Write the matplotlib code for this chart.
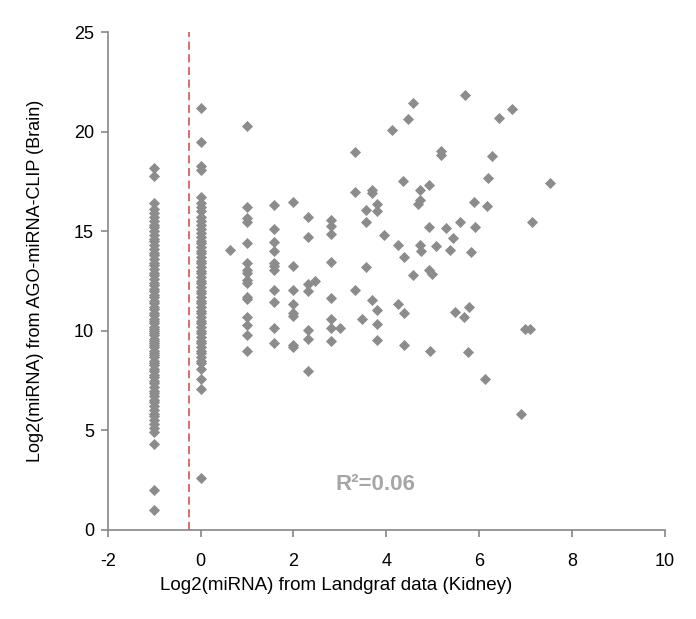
import matplotlib
matplotlib.use("Agg")
import matplotlib.pyplot as plt

plt.rcParams['font.family'] = ['Liberation Sans', 'DejaVu Sans']
plt.rcParams['axes.unicode_minus'] = False

# miRNAs absent from the kidney data (plotted at -1)
col_absent = [18.2, 17.8, 16.4, 16.1, 15.9, 15.7, 15.5, 15.3, 15.2, 15.0, 14.8, 14.6,
              14.5, 14.3, 14.1, 13.9, 13.8, 13.6, 13.4, 13.3, 13.1, 12.9, 12.8, 12.6,
              12.4, 12.3, 12.1, 12.0, 11.8, 11.7, 11.5, 11.4, 11.2, 11.1, 10.9, 10.8,
              10.6, 10.5, 10.4, 10.2, 10.1, 10.0, 9.9, 9.8, 9.6, 9.5, 9.4, 9.3, 9.2,
              9.0, 8.9, 8.8, 8.7, 8.5, 8.4, 8.3, 8.1, 8.0, 7.8, 7.7, 7.5, 7.4, 7.2,
              7.0, 6.9, 6.7, 6.5, 6.4, 6.2, 6.0, 5.8, 5.7, 5.5, 5.3, 5.1, 4.9, 4.3,
              2.0, 1.0]

# miRNAs with a single read in the kidney data (log2 = 0)
col_single = [21.2, 19.5, 18.3, 18.1, 16.7, 16.4, 16.2, 16.0, 15.7, 15.5, 15.3, 15.1,
              14.9, 14.7, 14.5, 14.4, 14.2, 14.0, 13.9, 13.7, 13.5, 13.4, 13.2, 13.0,
              12.9, 12.7, 12.5, 12.4, 12.2, 12.0, 11.9, 11.7, 11.5, 11.4, 11.2, 11.0,
              10.9, 10.7, 10.5, 10.4, 10.2, 10.0, 9.9, 9.7, 9.5, 9.4, 9.2, 9.0, 8.9,
              8.7, 8.5, 8.4, 8.1, 7.6, 7.1, 2.6]

# remaining miRNAs
kidney = [0.63,
          1.0, 1.0, 1.0, 1.0, 1.0, 1.0, 1.0, 1.0, 1.0, 1.0, 1.0, 1.0, 1.0, 1.0, 1.0, 1.0,
          1.58, 1.58, 1.58, 1.58, 1.58, 1.58, 1.58, 1.58, 1.58, 1.58, 1.58,
          2.0, 2.0, 2.0, 2.0, 2.0, 2.0, 2.0, 2.0,
          2.32, 2.32, 2.32, 2.32, 2.32, 2.32, 2.32, 2.46,
          2.81, 2.81, 2.81, 2.81, 2.81, 2.81, 2.81, 2.81, 3.0,
          3.32, 3.32, 3.32, 3.47,
          3.57, 3.57, 3.57,
          3.69, 3.69, 3.69,
          3.81, 3.81, 3.81, 3.81, 3.81,
          3.95, 4.12, 4.25, 4.25,
          4.35, 4.38, 4.38, 4.38,
          4.46, 4.58, 4.58,
          4.72, 4.72, 4.68, 4.72, 4.74,
          4.92, 4.92, 4.92, 4.98, 4.95,
          5.08, 5.17, 5.17, 5.28, 5.38, 5.43, 5.49,
          5.58, 5.67, 5.70, 5.76, 5.78, 5.83, 5.89, 5.91,
          6.12, 6.17, 6.19, 6.27, 6.42, 6.72, 6.90, 6.98, 7.09, 7.15, 7.52]
brain = [14.07,
         20.27, 16.2, 15.66, 15.49, 14.41, 13.43, 13.07, 12.90, 12.56, 12.40, 11.72,
         11.59, 10.69, 10.30, 9.80, 9.01,
         16.33, 15.11, 14.44, 13.99, 13.43, 13.23, 13.07, 12.03, 11.47, 10.13, 9.38,
         16.47, 13.23, 12.03, 11.36, 10.89, 10.75, 9.30, 9.21,
         15.71, 14.71, 12.36, 11.98, 10.02, 9.58, 8.0, 12.48,
         15.58, 15.24, 14.87, 13.48, 11.64, 10.59, 10.13, 9.5, 10.13,
         18.98, 16.95, 12.06, 10.59,
         16.05, 15.46, 13.2,
         17.05, 16.9, 11.56,
         16.38, 16.03, 11.02, 10.35, 9.55,
         14.81, 20.07, 14.32, 11.36,
         17.5, 13.73, 10.89, 9.30,
         20.64, 21.44, 12.81,
         17.08, 16.55, 16.38, 14.29, 13.99,
         17.3, 15.19, 13.07, 12.86, 8.96,
         14.24, 19.01, 18.84, 15.16, 14.05, 14.64, 10.94,
         15.44, 10.67, 21.86, 8.94, 11.22, 13.97, 16.45, 15.21,
         7.57, 16.25, 17.69, 18.79, 20.69, 21.16, 5.83, 10.08, 10.08, 15.44, 17.4]

cutoff = -0.26
r_squared = 0.06

fig = plt.figure(figsize=(6.96, 6.19), dpi=100)
ax = fig.add_axes([0.155, 0.144, 0.800, 0.804])

pt_color = '#8c8c8c'
msize = 32
ax.scatter([-1] * len(col_absent), col_absent, marker='D', s=msize, color=pt_color,
           linewidths=0, zorder=3)
ax.scatter([0] * len(col_single), col_single, marker='D', s=msize, color=pt_color,
           linewidths=0, zorder=3)
ax.scatter(kidney, brain, marker='D', s=msize, color=pt_color, linewidths=0, zorder=3)

# cutoff between absent and detected miRNAs
ax.axvline(cutoff, color='#d9625c', linestyle=(0, (4.5, 2.5)), linewidth=1.3, zorder=2)

ax.text(3.77, 2.3, f'R²={r_squared:.2f}', ha='center', va='center',
        fontsize=16, fontweight='bold', color='#a6a6a6')

ax.set_xlim(-2, 10)
ax.set_ylim(0, 25)
ax.set_xticks(range(-2, 11, 2))
ax.set_yticks(range(0, 26, 5))

for side in ['top', 'right']:
    ax.spines[side].set_visible(False)
for side in ['left', 'bottom']:
    ax.spines[side].set_color('#868686')
    ax.spines[side].set_linewidth(1.2)
ax.tick_params(axis='both', colors='#868686', length=5, width=1.2,
               labelsize=13, labelcolor='black')
ax.tick_params(axis='x', pad=12)
ax.tick_params(axis='y', pad=5)

ax.set_xlabel('Log2(miRNA) from Landgraf data (Kidney)', fontsize=13.5)
ax.xaxis.set_label_coords(0.41, -0.095)
ax.set_ylabel('Log2(miRNA) from AGO-miRNA-CLIP (Brain)', fontsize=13)
ax.yaxis.set_label_coords(-0.115, 0.5)

fig.savefig('out.png', dpi=100)
